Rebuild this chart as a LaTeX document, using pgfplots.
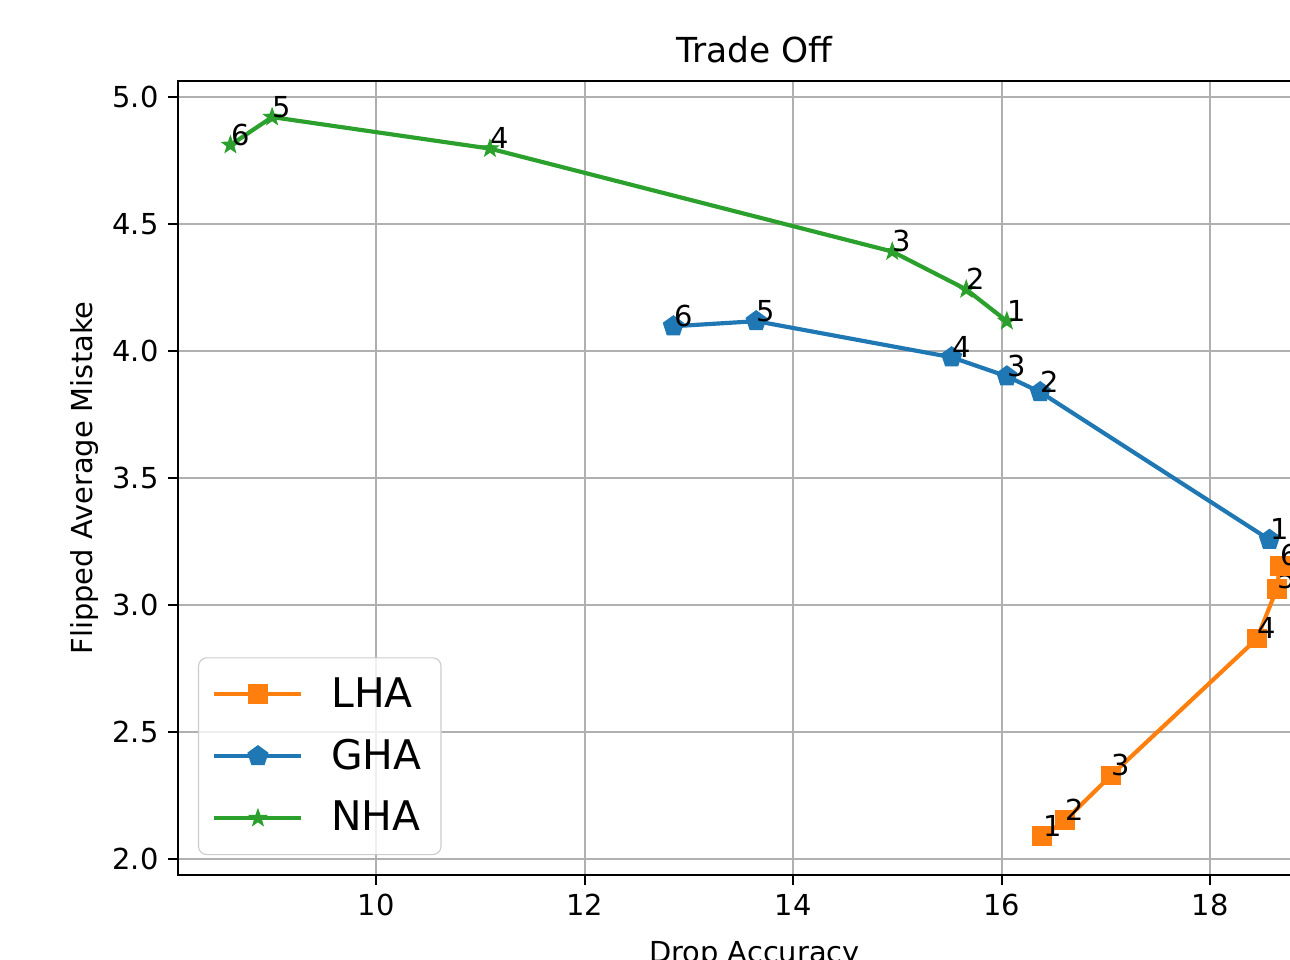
\documentclass[border=0pt]{standalone}
\usepackage{fontspec}
\setmainfont{DejaVu Sans}
\usepackage{pgfplots}
\pgfplotsset{compat=1.18}
\usepackage{pgfplotstable}
\definecolor{mplorange}{HTML}{FF7F0E}
\definecolor{mplblue}{HTML}{1F77B4}
\definecolor{mplgreen}{HTML}{2CA02C}
\definecolor{gridgray}{HTML}{B0B0B0}
\pgfdeclareplotmark{fstar}{%
  \pgfpathmoveto{\pgfpointpolar{90}{\pgfplotmarksize}}%
  \pgfpathlineto{\pgfpointpolar{126}{0.4\pgfplotmarksize}}%
  \pgfpathlineto{\pgfpointpolar{162}{\pgfplotmarksize}}%
  \pgfpathlineto{\pgfpointpolar{198}{0.4\pgfplotmarksize}}%
  \pgfpathlineto{\pgfpointpolar{234}{\pgfplotmarksize}}%
  \pgfpathlineto{\pgfpointpolar{270}{0.4\pgfplotmarksize}}%
  \pgfpathlineto{\pgfpointpolar{306}{\pgfplotmarksize}}%
  \pgfpathlineto{\pgfpointpolar{342}{0.4\pgfplotmarksize}}%
  \pgfpathlineto{\pgfpointpolar{18}{\pgfplotmarksize}}%
  \pgfpathlineto{\pgfpointpolar{54}{0.4\pgfplotmarksize}}%
  \pgfpathclose
  \pgfusepathqfillstroke}

\pgfplotstableread{
x y l
16.39 2.091 1
16.61 2.153 2
17.05 2.330 3
18.45 2.868 4
18.64 3.064 5
18.67 3.155 6
}\lha
\pgfplotstableread{
x y l
18.57 3.257 1
16.37 3.838 2
16.05 3.900 3
15.52 3.975 4
13.645 4.117 5
12.85 4.097 6
}\gha
\pgfplotstableread{
x y l
16.05 4.117 1
15.66 4.242 2
14.95 4.391 3
11.09 4.796 4
9.00 4.920 5
8.60 4.810 6
}\nha

\begin{document}
\begin{tikzpicture}
\path[use as bounding box] (0,0) rectangle (464.4pt,345.6pt);
\clip (0,0) rectangle (464.4pt,345.6pt);
\begin{axis}[
  at={(64.08pt,30.6pt)}, anchor=south west,
  scale only axis, width=415.08pt, height=285.84pt,
  xmin=8.097, xmax=19.16, ymin=1.938, ymax=5.062,
  xtick={10,12,14,16,18},
  ytick={2.0,2.5,3.0,3.5,4.0,4.5,5.0},
  yticklabel style={/pgf/number format/.cd, fixed, fixed zerofill, precision=1},
  /pgf/number format/assume math mode=true,
  tick label style={font=\fontsize{10.4}{12.5}\selectfont},
  xtick pos=left, ytick pos=left,
  tick align=outside, major tick length=3.5pt,
  tick style={black, line width=0.8pt},
  axis line style={line width=0.8pt},
  grid=major, major grid style={gridgray, line width=0.8pt},
  title={Trade Off},
  title style={font=\fontsize{12.4}{15}\selectfont, at={(0.5,1)}, anchor=base, inner sep=0pt, yshift=0.5pt},
  xlabel={Drop Accuracy},
  ylabel={Flipped Average Mistake},
  label style={font=\fontsize{10.4}{12.5}\selectfont},
  xlabel style={at={(axis description cs:0.5,-0.0715)}, anchor=north},
  ylabel style={at={(axis description cs:-0.0807,0.5)}, anchor=center, rotate=0},
  legend style={at={(0.0173,0.025)}, anchor=south west, draw=black!20,
    rounded corners=3pt, fill=white, fill opacity=0.8, text opacity=1,
    font=\fontsize{14.7}{17.5}\selectfont, inner xsep=5pt, inner ysep=5pt,
    row sep=6pt, column sep=8pt, cells={anchor=west}},
  legend image code/.code={\draw[sharp corners, fill opacity=1, draw opacity=1, mark repeat=2, mark phase=2] plot coordinates {(0cm,0cm)(0.55cm,0cm)(1.1cm,0cm)};},
  every node near coord/.style={anchor=base west, inner sep=0pt, black, font=\fontsize{10.4}{12.5}\selectfont},
  nodes near coords, point meta=explicit symbolic,
]
\addplot[color=mplorange, line width=1.5pt, mark=square*, mark size=3.3pt, mark options={solid, line width=0.5pt}] table[meta=l] {\lha};
\addlegendentry{LHA}
\addplot[color=mplblue, line width=1.5pt, mark=pentagon*, mark size=3.7pt, mark options={solid, line width=0.5pt}] table[meta=l] {\gha};
\addlegendentry{GHA}
\addplot[color=mplgreen, line width=1.5pt, mark=fstar, mark size=3pt, mark options={solid, line width=0.5pt}] table[meta=l] {\nha};
\addlegendentry{NHA}
\end{axis}
\end{tikzpicture}
\end{document}
